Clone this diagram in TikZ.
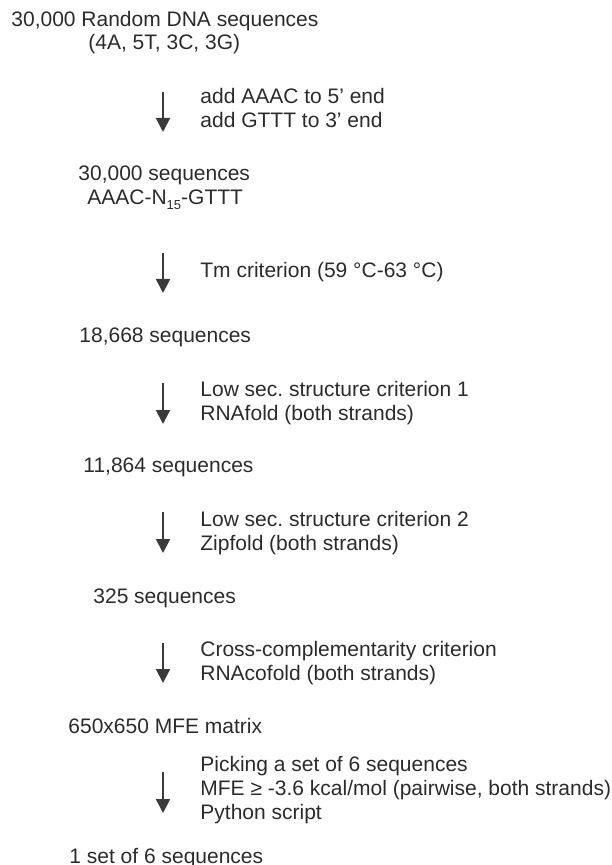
\documentclass[tikz,border=0pt]{standalone}
\usepackage{fontspec}
\setmainfont{Liberation Sans}
\usetikzlibrary{arrows.meta}
\definecolor{flowtext}{HTML}{2B2B2B}
\definecolor{flowgray}{HTML}{3A3A3A}

\begin{document}
\begin{tikzpicture}[x=0.5pt,y=-0.5pt,
		stage/.style={anchor=base west,inner sep=0pt,text=flowtext,font=\fontsize{10.5}{12}\selectfont\frenchspacing},
		filterlbl/.style={stage,align=left},
		downarrow/.style={line width=1pt,color=flowgray,-{Triangle[width=7pt,length=7pt]}}]
			%%%%% START %%%%%
			
			\useasboundingbox (0,0) rectangle (611,865);
			
			\node[stage] (random) at (11,27) {30,000 Random DNA sequences};
			\node[stage] (bases) at (88,50) {(4A, 5T, 3C, 3G)};
			
			\coordinate (a1top) at (163,92);
			\coordinate (a1tip) at (163,132);
			\draw[downarrow] (a1top) -- (a1tip);
			\node[filterlbl] (adapters) at (200,128) {add AAAC to 5’ end\\add GTTT to 3’ end};
			
			\node[stage] (padded) at (78,181) {30,000 sequences};
			\node[stage] (motif) at (87,205) {AAAC-N\raisebox{-0.45ex}{\fontsize{6.5}{7}\selectfont 15}-GTTT};
			
			\coordinate (a2top) at (163,253);
			\coordinate (a2tip) at (163,293);
			\draw[downarrow] (a2top) -- (a2tip);
			\node[filterlbl] (tm) at (200,278) {Tm criterion (59 °C-63 °C)};
			
			\node[stage] (tmpass) at (79,343) {18,668 sequences};
			
			\coordinate (a3top) at (163,383);
			\coordinate (a3tip) at (163,424);
			\draw[downarrow] (a3top) -- (a3tip);
			\node[filterlbl] (rnafold) at (200,420) {Low sec. structure criterion 1\\RNAfold (both strands)};
			
			\node[stage] (foldpass) at (83,472) {11,864 sequences};
			
			\coordinate (a4top) at (163,512);
			\coordinate (a4tip) at (163,553);
			\draw[downarrow] (a4top) -- (a4tip);
			\node[filterlbl] (zipfold) at (200,550) {Low sec. structure criterion 2\\Zipfold (both strands)};
			
			\node[stage] (zippass) at (93,603) {325 sequences};
			
			\coordinate (a5top) at (163,643);
			\coordinate (a5tip) at (163,683);
			\draw[downarrow] (a5top) -- (a5tip);
			\node[filterlbl] (cofold) at (200,680) {Cross-complementarity criterion\\RNAcofold (both strands)};
			
			\node[stage] (matrix) at (68,733) {650x650 MFE matrix};
			
			\coordinate (a6top) at (163,772);
			\coordinate (a6tip) at (163,813);
			\draw[downarrow] (a6top) -- (a6tip);
			\node[filterlbl] (picking) at (200,819) {Picking a set of 6 sequences\\MFE ≥ -3.6 kcal/mol (pairwise, both strands)\\Python script};
			
			\node[stage] (final) at (69,863) {1 set of 6 sequences};
			
			%%%%% END %%%%%
\end{tikzpicture}
\end{document}
